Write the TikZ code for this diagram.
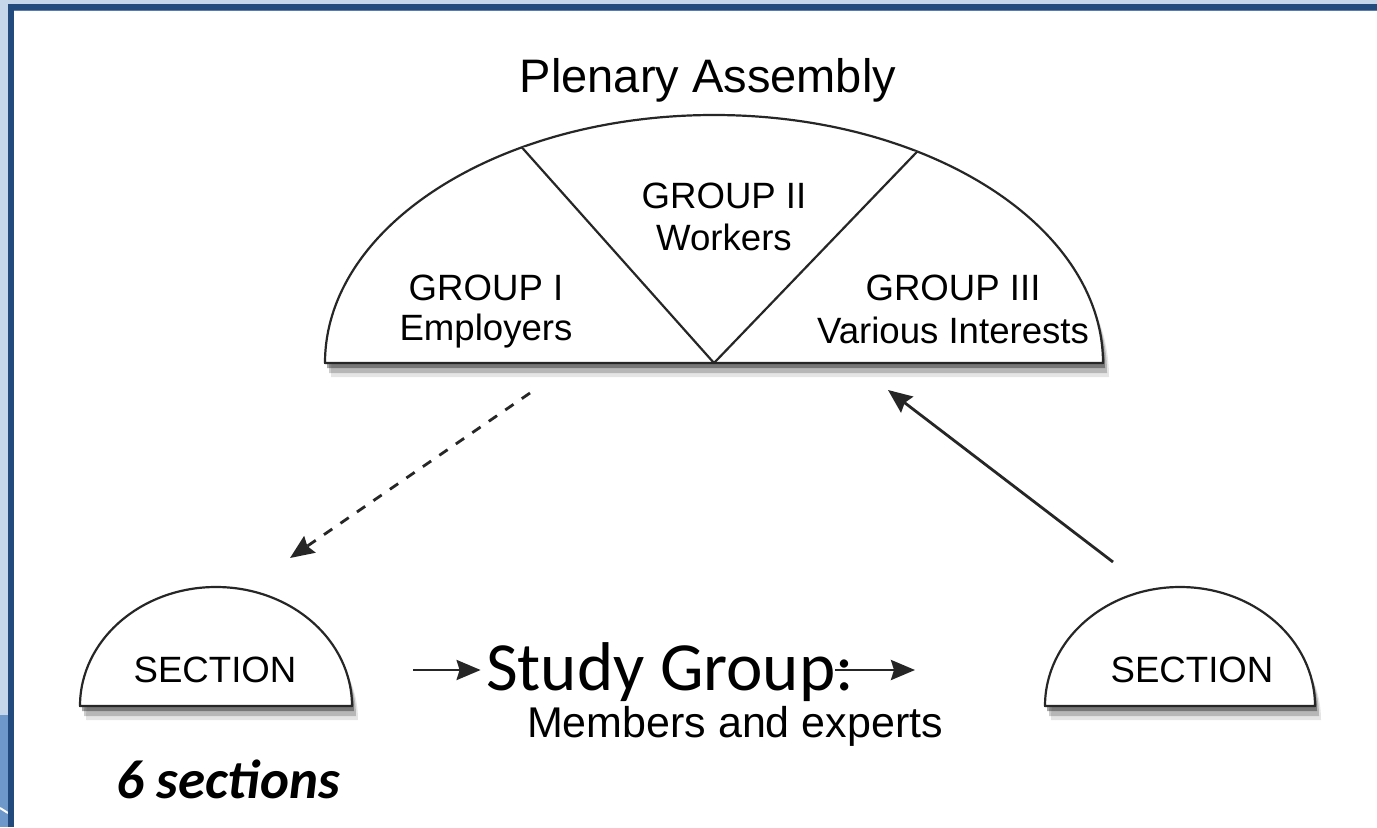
\documentclass[tikz,border=0pt]{standalone}
\usepackage{fontspec}
\setmainfont{Liberation Sans}
\newfontfamily\calibri{Carlito}
\usetikzlibrary{positioning,arrows.meta,shadows,calc}

\definecolor{framelight}{HTML}{C5D5EA}
\definecolor{framedark}{HTML}{224A7D}
\definecolor{framemid}{HTML}{6E98C9}
\definecolor{frameline}{HTML}{5A7CA8}

\begin{document}
\begin{tikzpicture}[
    x=0.5pt, y=0.5pt,
    half/.style={draw=black!85, line width=1.1pt, fill=white, line join=round},
    shadowed/.style={
        drop shadow={shadow xshift=3pt, shadow yshift=-7pt, opacity=.10, fill=black},
        drop shadow={shadow xshift=2pt, shadow yshift=-5pt, opacity=.20, fill=black},
        drop shadow={shadow xshift=1pt, shadow yshift=-2.5pt, opacity=.35, fill=black}},
    grouptext/.style={font=\fontsize{18.3}{20}\selectfont, inner sep=0pt, anchor=base},
    arrow/.style={-{Stealth[length=12pt, width=10pt, inset=1.5pt]}, line width=1.4pt, black!85},
    dasharrow/.style={arrow, dash pattern=on 5pt off 5pt}
]
\useasboundingbox (0,0) rectangle (1377,827);
\fill[white] (0,0) rectangle (1377,827);

% Slide frame
\fill[framelight] (0,0) rectangle (8,827);
\fill[framelight] (0,823) rectangle (1377,827);
\fill[framemid] (0,0) rectangle (8,112);
\draw[white, line width=1pt] (0,19) -- (8,14);
\fill[framedark] (8,0) rectangle (14,823);
\fill[framedark] (8,817) rectangle (1377,823);
\draw[frameline, line width=0.5pt] (14,816.5) -- (1377,816.5);

% Plenary assembly
\coordinate (plc) at (714,464);
\draw[half, shadowed] (325,464) arc[start angle=180, end angle=0, x radius=389, y radius=248] -- cycle;
\draw[half] ($(plc)+(119.6:389 and 248)$) -- (plc) -- ($(plc)+(58.5:389 and 248)$);

\node[grouptext, font=\fontsize{23.5}{26}\selectfont] (plenary) at (708,734) {Plenary Assembly};

\node[grouptext] (g1) at (486,527) {GROUP I};
\node[grouptext] (g1sub) at ([yshift=-20pt]g1.base) {Employers};
\node[grouptext] (g2) at (724,619) {GROUP II};
\node[grouptext] (g2sub) at ([yshift=-21pt]g2.base) {Workers};
\node[grouptext] (g3) at (953,527) {GROUP III};
\node[grouptext] (g3sub) at ([yshift=-21.5pt]g3.base) {Various Interests};

% Sections
\draw[half, shadowed] (80,121) arc[start angle=180, end angle=0, x radius=136, y radius=119] -- cycle;
\draw[half, shadowed] (1045,121) arc[start angle=180, end angle=0, x radius=135, y radius=119] -- cycle;
\node[grouptext] (secL) at (215,145) {SECTION};
\node[grouptext] (secR) at (1192,145) {SECTION};

% Study group
\node[font=\calibri\fontsize{34.5}{40}\selectfont, inner xsep=2.5pt, inner ysep=0pt, anchor=base] (study) at (670,137) {Study Group:};
\node[grouptext, font=\fontsize{21.5}{24}\selectfont] (members) at (735,90) {Members and experts};
\node[grouptext, font=\calibri\bfseries\itshape\fontsize{27.5}{30}\selectfont] (count) at (228,29) {6 sections};

% Connectors
\coordinate (pl-out) at (530,434);
\coordinate (secL-in) at (290,269);
\coordinate (secR-out) at (1113,265);
\coordinate (pl-in) at (888,437);
\coordinate (sg-in) at (413,157);
\coordinate (secR-in) at (915,157);

\draw[dasharrow] (pl-out) -- (secL-in);
\draw[arrow] (secR-out) -- (pl-in);
\draw[arrow] (sg-in) -- (sg-in -| study.west);
\draw[arrow] ([xshift=-12pt]study.east |- secR-in) -- (secR-in);

\end{tikzpicture}
\end{document}
